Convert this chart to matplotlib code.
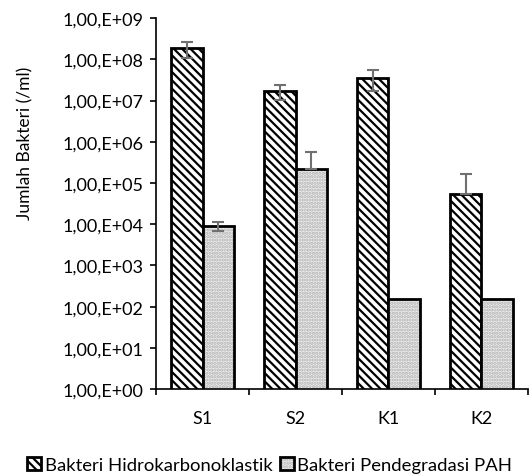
import matplotlib.pyplot as plt
import matplotlib as mpl
import numpy as np
from matplotlib.ticker import FixedLocator, FuncFormatter

categories = ['S1', 'S2', 'K1', 'K2']
hidrokarbon = [1.9e8, 1.75e7, 3.5e7, 5.4e4]
hidrokarbon_err_low = [0.85e8, 0.7e7, 1.8e7, 0]
hidrokarbon_err_high = [0.8e8, 0.65e7, 1.9e7, 1.1e5]
pah = [9.2e3, 2.2e5, 150, 150]
pah_err_low = [2.2e3, 0, 0, 0]
pah_err_high = [1.9e3, 3.4e5, 0, 0]

mpl.rcParams['font.family'] = ['Lato', 'DejaVu Sans']
mpl.rcParams['hatch.linewidth'] = 1.6

fig = plt.figure(figsize=(5.29, 4.77), dpi=100)
ax = fig.add_axes([0.295, 0.182, 0.703, 0.778])

x = np.arange(len(categories))
w = 0.34

mpl.rcParams['hatch.color'] = 'black'
ax.bar(x - w / 2, hidrokarbon, w, facecolor='white', edgecolor='black',
       linewidth=2, hatch='\\\\\\\\', label='Bakteri Hidrokarbonoklastik', zorder=2)
b2 = ax.bar(x + w / 2, pah, w, facecolor='#eeeeee', edgecolor='black',
            linewidth=2, label='Bakteri Pendegradasi PAH', zorder=2)
# dotted fill in grey
for p in b2:
    p.set_hatch('.....')
    p._hatch_color = mpl.colors.to_rgba('#b0b0b0')

ax.errorbar(x - w / 2, hidrokarbon, yerr=[hidrokarbon_err_low, hidrokarbon_err_high],
            fmt='none', ecolor='#707070', elinewidth=1.5, capsize=4.3, capthick=1.5, zorder=3)
mask = np.array(pah_err_high) > 0
ax.errorbar((x + w / 2)[mask], np.array(pah)[mask],
            yerr=[np.array(pah_err_low)[mask], np.array(pah_err_high)[mask]],
            fmt='none', ecolor='#707070', elinewidth=1.5, capsize=4.3, capthick=1.5, zorder=3)

ax.set_yscale('log')
ax.set_ylim(1, 1e9)
ax.set_xlim(-0.5, 3.5)
ax.yaxis.set_major_locator(FixedLocator([10.0 ** k for k in range(10)]))
ax.yaxis.set_minor_locator(FixedLocator([]))
ax.yaxis.set_major_formatter(FuncFormatter(lambda v, pos: '1,00,E+%02d' % round(np.log10(v))))

ax.set_xticks(np.arange(-0.5, 4.0, 1.0))
ax.set_xticklabels([])
ax.set_xticks(x, minor=True)
ax.set_xticklabels(categories, minor=True)
ax.tick_params(axis='x', which='minor', length=0, pad=15, labelsize=13)
ax.tick_params(axis='x', which='major', length=4.3, width=1.2, color='black')
ax.tick_params(axis='y', length=4.3, width=1.2, labelsize=13, pad=5)

for s in ['top', 'right']:
    ax.spines[s].set_visible(False)
for s in ['left', 'bottom']:
    ax.spines[s].set_linewidth(1.2)

ax.set_ylabel('Jumlah Bakteri (/ml)', fontsize=12.5)
ax.yaxis.set_label_coords(-0.33, 0.666)

fig.legend(loc='center', bbox_to_anchor=(0.51, 0.023), ncol=2, frameon=False,
           fontsize=13.3, handlelength=0.75, handleheight=0.75, handletextpad=0.2,
           columnspacing=0.4)

fig.savefig('out.png', dpi=100)
